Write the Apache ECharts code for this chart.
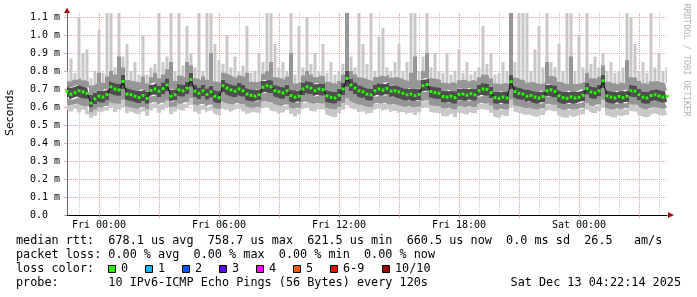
<!DOCTYPE html>
<html><head><meta charset="utf-8">
<script src="https://cdn.jsdelivr.net/npm/echarts@6/dist/echarts.min.js"></script>
<style>html,body{margin:0;padding:0;background:#fff}#c{width:697px;height:297px}</style>
</head><body><div id="c"></div>
<script>
// 12-minute steps starting Thu 22:24 (151 points, k = 0..150)
const startMinutesFromFri = -96;
const stepMinutes = 12;
const xTickLabels = ['Fri 00:00', 'Fri 06:00', 'Fri 12:00', 'Fri 18:00', 'Sat 00:00'];
const yTickValues = [0, 0.1, 0.2, 0.3, 0.4, 0.5, 0.6, 0.7, 0.8, 0.9, 1.0, 1.1];

// values in milliseconds
const median = [
0.685,0.672,0.680,0.690,0.684,0.676,0.622,0.645,0.660,0.655,
0.668,0.712,0.700,0.695,0.742,0.672,0.668,0.660,0.652,0.664,
0.648,0.692,0.700,0.688,0.702,0.722,0.660,0.668,0.695,0.690,
0.705,0.752,0.688,0.676,0.690,0.670,0.684,0.660,0.652,0.718,
0.705,0.695,0.688,0.700,0.690,0.672,0.665,0.660,0.668,0.710,
0.718,0.712,0.690,0.685,0.678,0.690,0.664,0.655,0.660,0.700,
0.712,0.705,0.692,0.700,0.696,0.662,0.654,0.650,0.665,0.700,
0.7587,0.722,0.705,0.690,0.684,0.672,0.668,0.690,0.700,0.694,
0.702,0.688,0.690,0.684,0.676,0.668,0.672,0.664,0.670,0.718,
0.725,0.686,0.680,0.676,0.658,0.655,0.660,0.652,0.670,0.672,
0.666,0.674,0.668,0.690,0.700,0.698,0.680,0.652,0.648,0.655,
0.650,0.740,0.686,0.676,0.672,0.660,0.664,0.655,0.650,0.658,
0.690,0.695,0.686,0.662,0.652,0.648,0.656,0.650,0.654,0.665,
0.702,0.684,0.678,0.690,0.745,0.662,0.655,0.650,0.658,0.652,
0.660,0.690,0.688,0.668,0.655,0.650,0.664,0.668,0.662,0.655,0.6605];

const smokeInnerHigh = [
0.715,0.705,0.712,0.722,0.716,0.708,0.668,0.680,0.692,0.690,
0.700,0.745,0.735,0.728,0.780,0.708,0.700,0.694,0.688,0.698,
0.684,0.724,0.735,0.720,0.738,0.760,0.695,0.700,0.728,0.724,
0.742,0.790,0.722,0.710,0.722,0.704,0.718,0.694,0.688,0.752,
0.738,0.728,0.720,0.734,0.722,0.706,0.698,0.694,0.700,0.744,
0.752,0.748,0.722,0.718,0.710,0.724,0.698,0.690,0.694,0.734,
0.746,0.738,0.726,0.734,0.728,0.696,0.688,0.684,0.700,0.736,
0.800,0.756,0.738,0.722,0.716,0.706,0.700,0.722,0.734,0.726,
0.736,0.720,0.724,0.716,0.708,0.700,0.706,0.698,0.702,0.752,
0.760,0.718,0.712,0.708,0.692,0.688,0.694,0.686,0.702,0.706,
0.698,0.706,0.700,0.722,0.734,0.730,0.712,0.686,0.682,0.688,
0.684,0.780,0.718,0.708,0.704,0.694,0.696,0.688,0.684,0.690,
0.722,0.728,0.718,0.696,0.686,0.682,0.690,0.684,0.688,0.698,
0.736,0.716,0.710,0.722,0.780,0.694,0.688,0.684,0.690,0.686,
0.694,0.722,0.720,0.700,0.688,0.684,0.696,0.700,0.694,0.688,0.692];

const smokeInnerLow = [
0.655,0.642,0.650,0.658,0.652,0.646,0.598,0.615,0.630,0.625,
0.638,0.676,0.668,0.662,0.700,0.640,0.636,0.630,0.622,0.634,
0.618,0.660,0.668,0.656,0.670,0.686,0.630,0.636,0.662,0.658,
0.672,0.712,0.656,0.644,0.658,0.640,0.652,0.630,0.622,0.684,
0.672,0.662,0.656,0.668,0.658,0.640,0.634,0.630,0.636,0.676,
0.684,0.678,0.658,0.654,0.646,0.658,0.632,0.624,0.630,0.666,
0.678,0.672,0.660,0.668,0.664,0.630,0.624,0.620,0.634,0.666,
0.712,0.688,0.672,0.658,0.652,0.640,0.636,0.658,0.668,0.662,
0.670,0.656,0.658,0.652,0.644,0.636,0.640,0.632,0.638,0.684,
0.690,0.654,0.648,0.644,0.626,0.624,0.628,0.620,0.638,0.640,
0.634,0.642,0.636,0.658,0.668,0.664,0.648,0.620,0.616,0.624,
0.618,0.700,0.654,0.644,0.640,0.628,0.632,0.624,0.618,0.626,
0.658,0.662,0.654,0.630,0.620,0.616,0.624,0.618,0.622,0.632,
0.668,0.652,0.646,0.658,0.706,0.630,0.624,0.618,0.626,0.620,
0.628,0.658,0.656,0.636,0.624,0.618,0.632,0.636,0.630,0.624,0.628];

const smokeMidLow = [
0.615,0.608,0.612,0.620,0.610,0.604,0.570,0.585,0.600,0.596,
0.605,0.628,0.622,0.618,0.640,0.604,0.600,0.596,0.590,0.600,
0.588,0.618,0.626,0.614,0.624,0.636,0.598,0.602,0.620,0.616,
0.626,0.650,0.616,0.608,0.616,0.602,0.612,0.596,0.590,0.632,
0.624,0.618,0.614,0.622,0.616,0.604,0.598,0.596,0.600,0.628,
0.632,0.628,0.616,0.612,0.606,0.614,0.598,0.592,0.596,0.622,
0.630,0.626,0.618,0.622,0.620,0.598,0.592,0.588,0.600,0.622,
0.650,0.636,0.626,0.616,0.612,0.604,0.600,0.616,0.622,0.618,
0.624,0.614,0.616,0.612,0.606,0.600,0.604,0.598,0.602,0.630,
0.636,0.612,0.608,0.606,0.594,0.592,0.596,0.588,0.602,0.604,
0.598,0.604,0.600,0.616,0.622,0.620,0.608,0.588,0.584,0.590,
0.586,0.640,0.612,0.606,0.602,0.594,0.596,0.590,0.586,0.592,
0.614,0.618,0.612,0.596,0.588,0.584,0.590,0.586,0.588,0.596,
0.622,0.610,0.606,0.614,0.640,0.596,0.590,0.586,0.592,0.588,
0.594,0.614,0.612,0.598,0.590,0.586,0.596,0.600,0.594,0.590,0.594];

const smokeMin = [
0.582,0.575,0.590,0.570,0.585,0.560,0.540,0.552,0.575,0.570,
0.580,0.596,0.572,0.586,0.600,0.565,0.578,0.570,0.560,0.575,
0.552,0.580,0.594,0.568,0.585,0.600,0.560,0.575,0.590,0.580,
0.598,0.610,0.574,0.562,0.585,0.570,0.580,0.566,0.556,0.595,
0.585,0.570,0.580,0.590,0.575,0.560,0.565,0.572,0.568,0.590,
0.598,0.585,0.575,0.560,0.570,0.585,0.562,0.548,0.560,0.585,
0.595,0.580,0.575,0.590,0.586,0.560,0.552,0.545,0.566,0.585,
0.610,0.596,0.588,0.570,0.575,0.560,0.566,0.580,0.590,0.575,
0.586,0.570,0.578,0.565,0.572,0.560,0.568,0.555,0.570,0.592,
0.598,0.575,0.570,0.566,0.552,0.548,0.560,0.545,0.570,0.566,
0.560,0.572,0.565,0.582,0.590,0.585,0.568,0.548,0.540,0.555,
0.550,0.600,0.578,0.570,0.565,0.555,0.560,0.550,0.545,0.556,
0.575,0.584,0.576,0.555,0.546,0.540,0.555,0.545,0.552,0.560,
0.585,0.572,0.566,0.578,0.598,0.556,0.550,0.542,0.555,0.548,
0.556,0.578,0.575,0.560,0.550,0.545,0.558,0.565,0.556,0.552,0.558];

const smokeMidHigh = [
0.745,0.740,0.752,0.760,0.748,0.742,0.720,0.730,0.790,0.735,
0.770,0.800,0.780,0.880,0.820,0.750,0.745,0.740,0.735,0.770,
0.730,0.765,0.790,0.760,0.780,0.810,0.850,0.745,0.775,0.765,
0.850,0.830,0.760,0.750,0.770,0.752,0.900,0.742,0.735,0.790,
0.780,0.770,0.760,0.775,0.765,0.790,0.740,0.738,0.745,0.785,
0.800,0.850,0.765,0.760,0.752,0.770,0.900,0.730,0.740,0.775,
0.800,0.780,0.765,0.775,0.770,0.740,0.732,0.728,0.745,0.780,
1.150,0.800,0.780,0.765,0.760,0.752,0.745,0.765,0.775,0.770,
0.780,0.762,0.766,0.760,0.750,0.745,0.790,0.880,0.748,0.800,
0.900,0.760,0.755,0.750,0.735,0.730,0.738,0.730,0.748,0.752,
0.742,0.750,0.745,0.765,0.780,0.775,0.758,0.730,0.726,0.734,
0.730,1.150,0.762,0.752,0.748,0.736,0.740,0.732,0.728,0.735,
0.850,0.772,0.762,0.740,0.730,0.726,0.880,0.728,0.732,0.742,
0.790,0.760,0.755,0.768,0.830,0.740,0.732,0.728,0.736,0.730,
0.860,0.765,0.762,0.745,0.732,0.728,0.742,0.745,0.738,0.732,0.736];

const smokeMax = [
0.800,0.870,0.790,1.100,0.900,0.920,0.760,0.800,1.030,0.790,
1.150,1.150,0.820,1.150,0.880,0.950,0.800,0.850,0.780,1.000,
0.780,0.820,0.840,1.150,0.850,0.880,1.150,0.800,1.150,0.830,
1.050,0.900,0.820,1.150,0.800,1.150,1.150,0.950,0.860,0.840,
1.000,0.820,0.880,0.800,0.830,1.050,0.790,0.800,0.900,0.850,
1.150,1.150,0.950,0.820,0.850,0.800,1.150,0.780,1.050,0.820,
1.100,0.840,0.900,0.800,0.950,0.790,0.850,0.780,0.800,0.840,
1.150,0.880,0.820,1.150,0.950,0.840,1.150,0.800,0.990,1.040,
0.820,0.800,0.850,0.950,0.800,0.850,1.150,1.150,0.800,0.880,
1.150,0.820,0.900,0.800,0.790,0.900,0.780,0.800,0.920,0.790,
0.850,0.780,0.800,0.820,1.050,0.840,0.900,0.780,0.790,0.850,
0.800,1.150,0.850,1.150,1.150,1.150,0.800,0.920,1.050,0.820,
1.150,0.850,0.820,0.950,0.800,1.150,1.150,0.800,1.000,0.820,
1.150,0.840,0.880,0.820,0.900,0.800,0.850,0.790,0.800,0.820,
1.150,1.100,0.950,0.800,0.850,0.790,1.150,0.820,0.900,0.800,0.820];

const legendLines = [
  'median rtt:  678.1 us avg  758.7 us max  621.5 us min  660.5 us now  0.0 ms sd  26.5   am/s',
  'packet loss: 0.00 % avg  0.00 % max  0.00 % min  0.00 % now',
  'loss color:',
  'probe:       10 IPv6-ICMP Echo Pings (56 Bytes) every 120s'
];
const lossLabels = ['0', '1', '2', '3', '4', '5', '6-9', '10/10'];
const lossColors = ['#26ff00', '#00b8ff', '#0059ff', '#5e00ff', '#ff00ff', '#ff5500', '#ff0000', '#a10000'];
const stamp = 'Sat Dec 13 04:22:14 2025';

// ---- build categories
const categories = [];
for (let k = 0; k < median.length; k++) {
  const m = startMinutesFromFri + k * stepMinutes;
  const day = m < 0 ? 'Thu' : (m < 1440 ? 'Fri' : 'Sat');
  const mm = ((m % 1440) + 1440) % 1440;
  const hh = String(Math.floor(mm / 60)).padStart(2, '0');
  const mi = String(mm % 60).padStart(2, '0');
  categories.push(day + ' ' + hh + ':' + mi);
}
const idxFri0 = categories.indexOf('Fri 00:00');

const diff = (a, b) => a.map((v, i) => Math.max(0, +(v - b[i]).toFixed(4)));
const LIGHT = '#c8c8c8', MID = '#969696', DARK = '#4e4e4e';
const layers = [
  { data: smokeMin, color: null },
  { data: diff(smokeMidLow, smokeMin), color: LIGHT },
  { data: diff(smokeInnerLow, smokeMidLow), color: MID },
  { data: diff(smokeInnerHigh, smokeInnerLow), color: DARK },
  { data: diff(smokeMidHigh, smokeInnerHigh), color: MID }
];
const series = layers.map((l) => ({
  type: 'line', stack: 'smoke', step: 'middle', data: l.data,
  symbol: 'none', silent: true, animation: false,
  lineStyle: { width: 0, opacity: 0 },
  areaStyle: l.color ? { color: l.color, opacity: 1 } : { opacity: 0 },
  z: 2
}));
// upper light smoke (mid-high to max) drawn as narrow columns
series.push({
  type: 'custom', clip: true, silent: true, animation: false, z: 1,
  data: smokeMax.map((v, i) => [i, smokeMidHigh[i], v]),
  encode: { x: 0, y: [1, 2] },
  renderItem: (params, api) => {
    const lo = api.coord([api.value(0), api.value(1)]);
    const hi = api.coord([api.value(0), api.value(2)]);
    return { type: 'rect', shape: { x: lo[0] - 1.5, y: hi[1], width: 3, height: lo[1] - hi[1] + 1 },
      style: { fill: LIGHT } };
  }
});
series.push({
  type: 'line', data: median, symbol: 'rect', symbolSize: [3, 3], showAllSymbol: true,
  lineStyle: { color: '#111', width: 1 }, itemStyle: { color: lossColors[0] },
  animation: false, z: 3
});

const MONO = '"DejaVu Sans Mono"';
const chart = echarts.init(document.getElementById('c'), null, { renderer: 'canvas' });
const gridRed = 'rgba(240,130,130,0.75)';
const gridGrey = 'rgba(185,185,185,0.85)';

const graphic = [];
legendLines.forEach((t, i) => graphic.push({
  type: 'text', x: 16, y: 241 + i * 14,
  style: { text: t, font: '11.8px ' + MONO, fill: '#000', verticalAlign: 'middle' }
}));
const sqX = [108, 145, 182, 219, 256, 293, 330, 382];
lossLabels.forEach((lab, i) => {
  graphic.push({ type: 'rect', shape: { x: sqX[i] + 0.5, y: 265.5, width: 7, height: 7 },
    style: { fill: lossColors[i], stroke: '#000', lineWidth: 1 } });
  graphic.push({ type: 'text', x: sqX[i] + 13, y: 269,
    style: { text: lab, font: '11.8px ' + MONO, fill: '#000', verticalAlign: 'middle' } });
});
graphic.push({ type: 'text', x: 681, y: 283,
  style: { text: stamp, font: '11.8px ' + MONO, fill: '#000', align: 'right', verticalAlign: 'middle' } });
graphic.push({ type: 'text', x: 10, y: 113, rotation: Math.PI / 2,
  style: { text: 'Seconds', font: '11px "DejaVu Sans"', fill: '#000', align: 'center', verticalAlign: 'middle' } });
graphic.push({ type: 'text', x: 686, y: 60, rotation: -Math.PI / 2,
  style: { text: 'RRDTOOL / TOBI OETIKER', font: '8.5px ' + MONO, fill: '#b4b4b4', align: 'center', verticalAlign: 'middle' } });
// axis arrows
graphic.push({ type: 'polygon', shape: { points: [[64, 13], [67, 7.5], [70, 13]] }, style: { fill: '#a01010' }, z: 10 });
graphic.push({ type: 'polygon', shape: { points: [[668, 212], [674, 215], [668, 218]] }, style: { fill: '#a01010' }, z: 10 });

chart.setOption({
  animation: false,
  backgroundColor: '#fff',
  grid: { left: 67, right: 30, top: 13, bottom: 82, containLabel: false },
  xAxis: [
    {
      type: 'category', data: categories, boundaryGap: false, gridIndex: 0, z: 1,
      axisLine: { lineStyle: { color: '#000', width: 1 } },
      axisTick: { show: true, length: 3, lineStyle: { color: gridRed },
        interval: (i) => i >= idxFri0 && (i - idxFri0) % 15 === 0 },
      axisLabel: { interval: (i, v) => xTickLabels.indexOf(v) >= 0, margin: 5,
        fontFamily: 'DejaVu Sans Mono', fontSize: 10, color: '#000' },
      splitLine: { show: true, interval: (i) => (i - idxFri0) % 5 === 0,
        lineStyle: { color: gridGrey, type: [1, 1], width: 1 } }
    },
    {
      type: 'category', data: categories, boundaryGap: false, gridIndex: 0, position: 'bottom', z: 1,
      axisLine: { show: false }, axisTick: { show: false }, axisLabel: { show: false },
      splitLine: { show: true, interval: (i) => (i - idxFri0) % 15 === 0,
        lineStyle: { color: gridRed, type: [1, 1], width: 1 } }
    }
  ],
  yAxis: {
    type: 'value', min: 0, max: 1.1222, interval: 0.1,
    axisLine: { show: true, lineStyle: { color: '#666', width: 1 } },
    axisTick: { show: true, length: 3, lineStyle: { color: gridRed } },
    axisLabel: {
      showMaxLabel: false, margin: 7, fontFamily: 'DejaVu Sans Mono', fontSize: 10, color: '#000',
      formatter: (v) => {
        const r = Math.round(v * 10) / 10;
        if (yTickValues.indexOf(r) < 0 || Math.abs(r - v) > 1e-6) return '';
        return r === 0 ? '0.0  ' : r.toFixed(1) + ' m';
      }
    },
    splitLine: { show: true, showMinLine: false, showMaxLine: false,
      lineStyle: { color: gridRed, type: [1, 1], width: 1 } }
  },
  series: series,
  graphic: graphic
});
</script></body></html>
